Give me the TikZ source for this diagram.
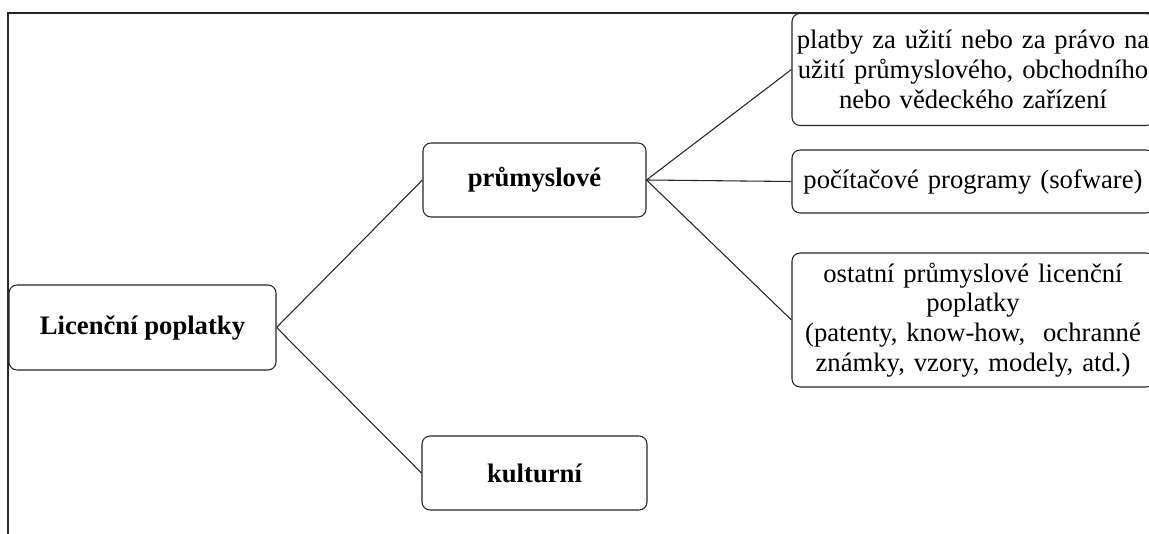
\documentclass[tikz,border=0pt]{standalone}
\usepackage{fontspec}
\setmainfont{Liberation Serif}
\begin{document}
\begin{tikzpicture}[x=0.75pt,y=-0.75pt,
  box/.style={draw=black!85, line width=0.8pt, rounded corners=6pt, inner sep=0pt,
    align=center, font=\fontsize{20}{22.3}\selectfont},
  head/.style={box, font=\fontsize{20}{22.3}\selectfont\bfseries},
  leaf/.style={box, minimum width=271.5pt, text width=271.5pt},
  link/.style={draw=black!85, line width=0.8pt}]
  % page area (also crops the boxes running off the right edge)
  \useasboundingbox (0,0) rectangle (1149,534);
  \clip (0,0) rectangle (1149,534);
  \fill[white] (0,0) rectangle (1149,534);

  % outer frame
  \draw[black!85, line width=1.2pt] (8,534) -- (8,13) -- (1149,13);

  % level 0
  \node[head, minimum width=200.25pt, minimum height=63.75pt] (lic) at (142.5,327.5) {Licenční poplatky};

  % level 1
  \node[head, minimum width=167.25pt, minimum height=55.5pt] (pru) at (534.5,180) {průmyslové};
  \node[head, minimum width=168.75pt, minimum height=55.5pt] (kul) at (534.5,473) {kulturní};

  % level 2
  \node[leaf, minimum height=84pt] (r1) at (973,69.5)
    {platby za užití nebo za právo na\\užití průmyslového, obchodního\\nebo vědeckého zařízení};
  \node[leaf, minimum height=47.25pt] (r2) at (973,181.5)
    {počítačové programy (sofware)};
  \node[leaf, minimum height=100.5pt] (r3) at (973,320)
    {ostatní průmyslové licenční\\poplatky\\(patenty, know-how,\ \ ochranné\\známky, vzory, modely, atd.)};

  % connectors
  \draw[link] (lic.east) -- (pru.west);
  \draw[link] (lic.east) -- (kul.west);
  \draw[link] (pru.east) -- (r1.west);
  \draw[link] (pru.east) -- (r2.west);
  \draw[link] (pru.east) -- (r3.west);
\end{tikzpicture}
\end{document}
